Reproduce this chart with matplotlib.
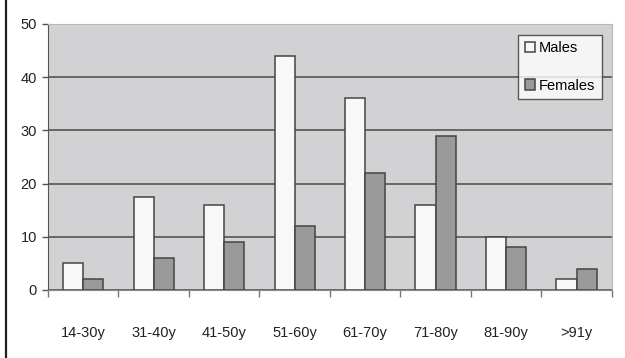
import numpy as np
import matplotlib.pyplot as plt
from matplotlib.lines import Line2D

# age groups and patient counts
age_groups = ["14-30y", "31-40y", "41-50y", "51-60y", "61-70y", "71-80y", "81-90y", ">91y"]
males = [5, 17.5, 16, 44, 36, 16, 10, 2]
females = [2, 6, 9, 12, 22, 29, 8, 4]

plt.rcParams['font.family'] = ['Liberation Sans', 'DejaVu Sans']

fig = plt.figure(figsize=(6.25, 3.58), dpi=100)
ax = fig.add_axes([0.0768, 0.19, 0.902, 0.743])
ax.set_facecolor("#d2d2d4")

x = np.arange(len(age_groups))
w = 0.285
ax.bar(x - w / 2, males, w, color="#f8f8f8", edgecolor="#444444", linewidth=1.1,
       label="Males", zorder=3)
ax.bar(x + w / 2, females, w, color="#9a9a9a", edgecolor="#444444", linewidth=1.1,
       label="Females", zorder=3)

ax.set_xlim(-0.5, len(age_groups) - 0.5)
ax.set_ylim(0, 50)
ax.set_yticks(range(0, 51, 10))
ax.yaxis.grid(True, color="#5e5e5e", linewidth=1.3, zorder=1)
ax.set_axisbelow(True)

ax.set_xticks(x)
ax.set_xticklabels(age_groups, fontsize=10.5, color="#222222")
ax.set_xticks(np.arange(-0.5, len(age_groups), 1), minor=True)
ax.tick_params(axis="x", which="major", length=0, pad=26)
ax.tick_params(axis="x", which="minor", length=5, color="#777777", width=1)
ax.tick_params(axis="y", length=4, color="#555555", width=1, labelsize=10.5,
               labelcolor="#222222", pad=4)

for s in ["top", "right"]:
    ax.spines[s].set_color("#b8b8b8")
ax.spines["left"].set_color("#555555")
ax.spines["bottom"].set_color("#888888")

leg = ax.legend(loc="upper right", bbox_to_anchor=(0.983, 0.96), fontsize=10.5,
                frameon=True, fancybox=False, edgecolor="#333333",
                handlelength=0.7, handleheight=0.7, handletextpad=0.3,
                labelspacing=1.6, borderpad=0.45, borderaxespad=0)
leg.get_frame().set_linewidth(1.0)
leg.get_frame().set_facecolor("white")

# thin dark rule along the left edge of the figure
fig.add_artist(Line2D([0.0096, 0.0096], [0, 1], color="#222222", linewidth=1.6,
                      transform=fig.transFigure))

fig.savefig("out.png", dpi=100, facecolor="white")
